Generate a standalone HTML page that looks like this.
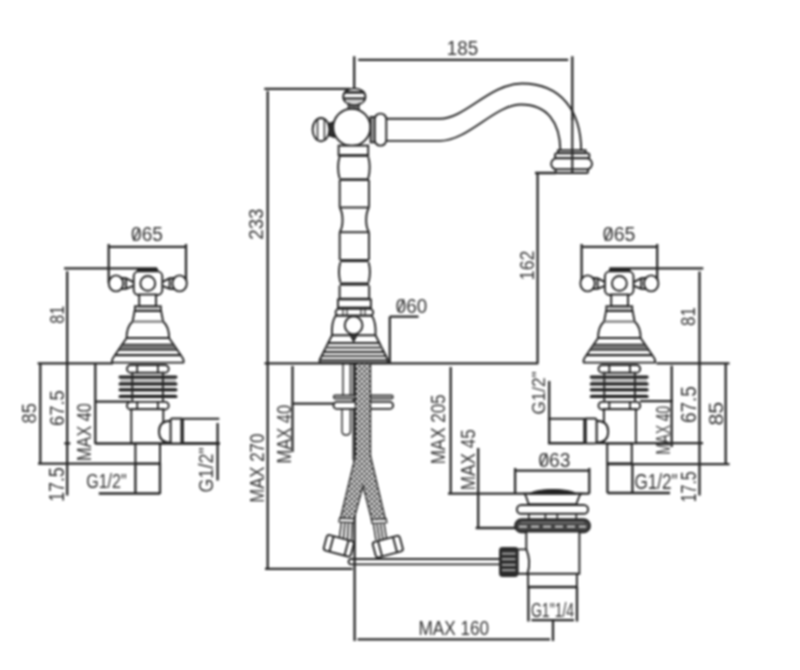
<!DOCTYPE html>
<html><head><meta charset="utf-8"><style>
html,body{margin:0;padding:0;background:#fff;}
svg{display:block;}

text{font-family:"Liberation Sans",sans-serif;fill:#333;}
</style></head><body>
<svg width="800" height="670" viewBox="0 0 800 670">
<defs>
<pattern id="braid" width="5" height="5" patternUnits="userSpaceOnUse" x="355.6" y="0">
<rect width="5" height="5" fill="#2a2a2a"/>
<circle cx="1.25" cy="1.25" r="1.5" fill="#fff"/>
<circle cx="3.75" cy="3.75" r="1.5" fill="#fff"/>
</pattern>
</defs>
<filter id="bl" color-interpolation-filters="sRGB" filterUnits="userSpaceOnUse" x="0" y="0" width="800" height="670"><feGaussianBlur stdDeviation="0.8"/></filter>
<g filter="url(#bl)">
<rect width="800" height="670" fill="#fff"/>
<path d="M354.2,56.2 L354.2,88.5 M358.2,59.8 L568.2,59.8 M572.3,56.3 L572.3,120 M264.3,88.8 L350,88.8 M267.7,91 L267.7,568.8 M264.5,363.4 L538.3,363.4 M537.6,172.8 L537.6,363.4 M535,173 L556,173 M389.8,316.5 L389.8,363.4 M389.8,316.6 L418.5,316.6 M265,568.8 L352.5,568.8 M292.5,366 L292.5,452 M292.5,403.6 L335,403.6 M450.7,367 L450.7,493.8 M448,493.7 L589.3,493.7 M478.2,448 L478.2,527.7 M475.7,528 L515.5,528 M515.1,468 L515.1,493.7 M589.3,468 L589.3,493.7 M515.1,470.6 L589.3,470.6 M354.6,363.4 L354.6,641 M357.5,639.3 L550,639.3 M553,620 L553,641 M528.4,587 L528.4,621.5 M577,587 L577,621.5 M531.4,620.2 L574,620.2 M108.7,244 L108.7,283 M186,244 L186,283 M108.7,246.8 L186,246.8 M64.1,268.45 L157,268.45 M67.2,271.3 L67.2,495.5 M37.6,363.3 L113,363.3 M40.3,363.3 L40.3,463.6 M38,463.6 L160,463.6 M64.3,443.4 L70.3,443.4 M95.3,364 L95.3,444 M95.3,401.6 L130,401.6 M95.3,443.5 L220,443.5 M135.4,463 L135.4,494 M160,463 L160,494 M98.8,493.5 L160,493.5 M217.6,423 L217.6,480.5 M581.6,244 L581.6,286 M657.2,244 L657.2,286 M581.6,246.8 L657.2,246.8 M609.5,268.45 L703.3,268.45 M699.5,271.5 L699.5,495.5 M656.4,363.3 L729.5,363.3 M725.7,363.3 L725.7,464.2 M607.4,464.2 L729.5,464.2 M671.7,365.7 L671.7,447 M640,401.2 L673,401.2 M548.4,443.2 L703,443.2 M607.4,464 L607.4,493 M632.4,464 L632.4,493 M607.4,493 L670,493 M549.2,381 L549.2,443.6" fill="none" stroke="#262626" stroke-width="2.3"/>

<g fill="#fff" stroke="#222" stroke-width="1.9">
 <rect x="136.7" y="268" width="21.6" height="4.5" rx="2" fill="#222" stroke="none"/>
 <path d="M122,278 L126,278.3 L134,282.4 L134,285.7 L126,288.7 L122,289 Z M126,278.3 V288.7"/>
 <path d="M173.6,278 L169.6,278.3 L161.6,282.4 L161.6,285.7 L169.6,288.7 L173.6,289 Z M169.6,278.3 V288.7"/>
 <ellipse cx="116" cy="283.4" rx="7.2" ry="8"/>
 <ellipse cx="179.6" cy="283.4" rx="7.2" ry="8"/>
 <rect x="133.7" y="271.4" width="28.6" height="23.6" rx="5"/>
 <circle cx="147.8" cy="283.4" r="7.4"/>
 <rect x="139.2" y="294.5" width="16.8" height="11.8"/>
 <rect x="135" y="306.3" width="25.8" height="4.8"/>
 <path d="M134.6,311 L132.6,321.5 C128.6,325 126.6,331 126.6,338 L114,356.5 Q111.3,360 112.3,362.6 L183.4,362.6 Q184.4,360 181.7,356.5 L169.1,338 C169.1,331 167.1,325 163.1,321.5 L161.1,311 Z"/>
 <path d="M132.8,321.6 H162.9" stroke="#777" stroke-width="2.2"/>
 <path d="M126.6,338 H169.1" stroke-width="2.2"/>
 <path d="M122.2,344.3 L173.5,344.3 L177.4,350.2 L118.3,350.2 Z" fill="#777" stroke-width="1.2"/>
 <path d="M115.3,355.2 H180.4" stroke-width="2.2"/>
 <path d="M137,308.6 H158.7" stroke="#aaa" stroke-width="1.6"/>
 <rect x="127" y="365" width="41.7" height="7.8" rx="3.9"/>
 <path d="M137.2,365 V372.8 M157.9,365 V372.8" stroke-width="1.8"/>
 <rect x="120" y="377.5" width="56" height="18.5" rx="3" fill="#c4c4c4" stroke="none"/>
 <path d="M120,381 Q116,381 120,380.5 M120,386.8 H176 M120,393 H176" stroke="#fff" stroke-width="2"/>
 <g stroke-width="3" stroke-linecap="round" stroke="#1e1e1e">
  <path d="M120,377.1 H176 M120,383.9 H176 M120,389.7 H176 M120,396.5 H176"/>
 </g>
 <path d="M132.3,372.8 V401.9 M162.9,372.8 V401.9" stroke-width="1.8"/>
 <rect x="127" y="401.9" width="41.7" height="7.6" rx="3.8"/>
 <path d="M137.2,401.9 V409.5 M157.9,401.9 V409.5" stroke-width="1.8"/>
 <rect x="131.3" y="409.2" width="32" height="34"/>
 <path d="M170.7,420.8 C161.5,421 159,426 159,431.7 C159,437.4 161.5,442.4 170.7,442.6 Z"/>
 <rect x="170.7" y="418.5" width="12.3" height="24.8" rx="1.5" stroke-width="1.8"/>
 <path d="M181.4,418.5 V443.3"/>
 <path d="M183,418.8 H219.3 M183,443.3 H219.3"/>
 <rect x="135.4" y="443.6" width="24.6" height="19.8" stroke-width="2"/>
</g>

<g transform="translate(767.2,0) scale(-1,1)">
<g fill="#fff" stroke="#222" stroke-width="1.9">
 <rect x="136.7" y="268" width="21.6" height="4.5" rx="2" fill="#222" stroke="none"/>
 <path d="M122,278 L126,278.3 L134,282.4 L134,285.7 L126,288.7 L122,289 Z M126,278.3 V288.7"/>
 <path d="M173.6,278 L169.6,278.3 L161.6,282.4 L161.6,285.7 L169.6,288.7 L173.6,289 Z M169.6,278.3 V288.7"/>
 <ellipse cx="116" cy="283.4" rx="7.2" ry="8"/>
 <ellipse cx="179.6" cy="283.4" rx="7.2" ry="8"/>
 <rect x="133.7" y="271.4" width="28.6" height="23.6" rx="5"/>
 <circle cx="147.8" cy="283.4" r="7.4"/>
 <rect x="139.2" y="294.5" width="16.8" height="11.8"/>
 <rect x="135" y="306.3" width="25.8" height="4.8"/>
 <path d="M134.6,311 L132.6,321.5 C128.6,325 126.6,331 126.6,338 L114,356.5 Q111.3,360 112.3,362.6 L183.4,362.6 Q184.4,360 181.7,356.5 L169.1,338 C169.1,331 167.1,325 163.1,321.5 L161.1,311 Z"/>
 <path d="M132.8,321.6 H162.9" stroke="#777" stroke-width="2.2"/>
 <path d="M126.6,338 H169.1" stroke-width="2.2"/>
 <path d="M122.2,344.3 L173.5,344.3 L177.4,350.2 L118.3,350.2 Z" fill="#777" stroke-width="1.2"/>
 <path d="M115.3,355.2 H180.4" stroke-width="2.2"/>
 <path d="M137,308.6 H158.7" stroke="#aaa" stroke-width="1.6"/>
 <rect x="127" y="365" width="41.7" height="7.8" rx="3.9"/>
 <path d="M137.2,365 V372.8 M157.9,365 V372.8" stroke-width="1.8"/>
 <rect x="120" y="377.5" width="56" height="18.5" rx="3" fill="#c4c4c4" stroke="none"/>
 <path d="M120,381 Q116,381 120,380.5 M120,386.8 H176 M120,393 H176" stroke="#fff" stroke-width="2"/>
 <g stroke-width="3" stroke-linecap="round" stroke="#1e1e1e">
  <path d="M120,377.1 H176 M120,383.9 H176 M120,389.7 H176 M120,396.5 H176"/>
 </g>
 <path d="M132.3,372.8 V401.9 M162.9,372.8 V401.9" stroke-width="1.8"/>
 <rect x="127" y="401.9" width="41.7" height="7.6" rx="3.8"/>
 <path d="M137.2,401.9 V409.5 M157.9,401.9 V409.5" stroke-width="1.8"/>
 <rect x="131.3" y="409.2" width="32" height="34"/>
 <path d="M170.7,420.8 C161.5,421 159,426 159,431.7 C159,437.4 161.5,442.4 170.7,442.6 Z"/>
 <rect x="170.7" y="418.5" width="12.3" height="24.8" rx="1.5" stroke-width="1.8"/>
 <path d="M181.4,418.5 V443.3"/>
 <path d="M183,418.8 H219.3 M183,443.3 H219.3"/>
 <rect x="135.4" y="443.6" width="24.6" height="19.8" stroke-width="2"/>
</g>
</g>

<g fill="#fff" stroke="#222" stroke-width="1.9">
 <!-- spout -->
 <path fill="none" d="M386,118.8 L440,118.8 C465,118.8 490,83.5 522,83.5 C562,83.5 581,112 581.2,150.5"/>
 <path fill="none" d="M386,140.9 L440,140.9 C468,140.9 495,104.5 521,104.5 C547,104.5 560,122 560.4,150.5"/>
 <rect x="558" y="150.2" width="27.6" height="3"/>
 <rect x="555" y="153.2" width="34.4" height="5" rx="2"/>
 <rect x="551.2" y="158.2" width="40.8" height="11.2" rx="5.5"/>
 <rect x="555.6" y="169.4" width="32.4" height="3.6" rx="1"/>
 <path d="M572.3,118 V172" stroke="#262626" stroke-width="2.1"/>
 <!-- head -->
 <rect x="348.4" y="104.6" width="10.5" height="5" fill="#777" stroke-width="1.4"/>
 <ellipse cx="354.3" cy="96.8" rx="11.1" ry="8.4"/>
 <path d="M344.2,92.4 H364.4" stroke-width="2.6"/>
 <path d="M343.4,98.5 H365.2" stroke-width="2.2"/>
 <path d="M346,101.8 H362.6" stroke="#bbb" stroke-width="2"/>
 <path d="M328.5,124 L334,122 L334,137 L328.5,135 Z" fill="#333"/>
 <ellipse cx="321" cy="129.6" rx="8.4" ry="11.6"/>
 <path d="M317.5,118.6 V140.6 M324.4,118.4 V140.8" stroke-width="1.4"/>
 <circle cx="351.8" cy="127.3" r="18.6"/>
 <rect x="370.6" y="117" width="4.2" height="25.3" fill="#bbb"/>
 <rect x="374.7" y="113.6" width="11.6" height="32" rx="5.5"/>
 <!-- column -->
 <rect x="338.6" y="145.6" width="29.6" height="9.6"/>
 <path d="M338.6,155.6 H368.2" stroke-width="2.4"/>
 <path fill="none" d="M339.6,156.6 C337.8,163 337.8,172 339.6,178.6 M368.2,156.6 C370,163 370,172 368.2,178.6"/>
 <path d="M339.6,179.6 H369" stroke-width="2.6"/>
 <path d="M339.7,180 V207.5 M369,180 V207.5"/>
 <path d="M339.7,207.5 H369"/>
 <path fill="none" d="M339.7,207.5 C343.5,214 343.5,226 339.7,232.2 M369,207.5 C365.2,214 365.2,226 369,232.2"/>
 <path d="M339.7,232.2 H369"/>
 <path d="M339.7,232.2 V260 M369,232.2 V260"/>
 <path d="M340.2,260.6 H368.6" stroke-width="3"/>
 <path fill="none" d="M340.3,262.2 C338.7,268 338.7,276 340.3,282.2 M368.6,262.2 C370.2,268 370.2,276 368.6,282.2"/>
 <path d="M340,284 H369" stroke-width="3.2"/>
 <path d="M339.6,285.6 V298.8 M369.2,285.6 V298.8 M339.6,298.8 H369.2"/>
 <rect x="338" y="299.4" width="32.9" height="8.2"/>
 <rect x="335.6" y="308.8" width="37.6" height="7" rx="3.5"/>
 <path d="M343,308.8 V315.8 M347,308.8 V315.8 M361,308.8 V315.8 M365,308.8 V315.8" stroke-width="1.2"/>
 <path d="M335.6,315.8 C332.2,321 331.6,328 332,335.2 L319.8,359.5 Q318.6,362.6 321.5,362.6 L386,362.6 Q388.9,362.6 387.7,359.5 L375.5,335.2 C375.9,328 375.3,321 371.9,315.8 Z"/>
 <circle cx="353.6" cy="325.3" r="8.9"/>
 <path d="M349.6,333.3 L353.6,341 L357.6,333.3" fill="#555"/>
 <path d="M332,335.2 H375.5" stroke-width="2"/>
 <path d="M328,343 H379.5" stroke-width="2"/>
 <path d="M325.8,347.6 H381.7" stroke="#666" stroke-width="2.6"/>
 <path d="M323.6,352 H383.9" stroke-width="1.8"/>
 <path d="M321.6,356.2 H385.9" stroke-width="1.8"/>
 <path d="M320.2,360.2 H387.3" stroke-width="1.8"/>
 <!-- under counter -->
 <path d="M343,363.4 V398 M350.4,363.4 V398" stroke-width="1.4"/>
 <path d="M342,409.5 V431 Q342,435 346,435 Q350.4,435 350.4,431 V409.5" stroke-width="1.4"/>
 <path d="M352.9,363.4 V460" stroke-width="1"/>
 <rect x="333.5" y="395.2" width="59.6" height="3.6" rx="1.8" fill="#999" stroke-width="1.3"/>
 <rect x="333.5" y="401.9" width="59.6" height="7" rx="3.5"/>
 <!-- hoses -->
 <path d="M355.4,363.4 L370.5,363.4 L370.5,455.7 L385.8,521 L372,521.5 L363,486 L353.7,520.5 L340,520 L355.4,455.7 Z" fill="url(#braid)" stroke="#222" stroke-width="1.3"/>
 <path d="M339.6,518 L354.4,518.8 L353.8,522.6 L339,521.8 Z" stroke-width="1.3"/>
 <path d="M371.4,519.6 L386.2,518.8 L386.8,522.6 L372,523.4 Z" stroke-width="1.3"/>
 <path d="M341.5,522 L339.5,537 M345,522.3 L343.5,538 M348.5,522.5 L347.5,539 M352,522.7 L351.5,540" stroke-width="1.5"/>
 <path d="M373.5,524 L376,540 M377,523.8 L379.5,540 M380.5,523.6 L383,540 M384,523.4 L386.5,539" stroke-width="1.5"/>
 <g transform="translate(338.8,545.8) rotate(15)"><rect x="-14" y="-8" width="28" height="16" rx="2.5"/><path d="M-7.5,-8 V8 M8,-8 V8"/></g>
 <g transform="translate(387.8,546.6) rotate(-15)"><rect x="-14" y="-8" width="28" height="16" rx="2.5"/><path d="M-8,-8 V8 M7.5,-8 V8"/></g>
 <!-- drain rod -->
 <path d="M350,559 L500,559 M350,564.4 L500,564.4 M350,559 Q347,561.7 350,564.4"/>
 <!-- pop-up waste -->
 <path d="M524.6,493.7 C527,497 527.5,502 528.8,504.3 L576.3,504.3 C577.5,502 578,497 581,493.7 Z"/>
 <path d="M529.7,494 C535,488 571,488 576.4,494 Z" fill="#222" stroke-width="1"/>
 <path d="M528.8,513.8 V519.2 M545.4,513.8 V519.2 M557.3,513.8 V519.2 M576.3,513.8 V519.2" stroke-width="1.6"/>
 <rect x="516.9" y="505" width="71.2" height="8.8" rx="4.4"/>
 <rect x="515.1" y="519.2" width="74.9" height="13.1" rx="6.5" fill="#444"/>
 <path d="M519,526.6 H586" stroke="#ddd" stroke-width="1.8" stroke-dasharray="8 4"/>
 <path d="M521,522.6 H584" stroke="#888" stroke-width="1"/>
 <rect x="526.3" y="531.5" width="53.1" height="42.3"/>
 <path d="M517.5,549.4 H526.3 Q531.5,561 527.5,573.8 H517.5 Z"/>
 <rect x="500" y="548" width="17.5" height="28" rx="2.5" fill="#2a2a2a" stroke="#2a2a2a"/>
 <path d="M502,553.6 H515.5 M502,559.2 H515.5 M502,564.8 H515.5 M502,570.2 H515.5" stroke="#999" stroke-width="2.2"/>
 <rect x="528.1" y="573.8" width="48.8" height="13.2"/>
 <path d="M528.1,587 H576.9" stroke-width="2.6"/>
</g>

<text x="446.79" y="55.41" font-size="19.44" textLength="31.43" lengthAdjust="spacingAndGlyphs">185</text><text transform="translate(262.60,239.73) rotate(-90)" x="0" y="0" font-size="20.14" textLength="31.14" lengthAdjust="spacingAndGlyphs">233</text><text transform="translate(533.61,280.13) rotate(-90)" x="0" y="0" font-size="19.44" textLength="29.58" lengthAdjust="spacingAndGlyphs">162</text><text x="395.85" y="312.60" font-size="20.00" textLength="31.37" lengthAdjust="spacingAndGlyphs">060</text><path d="M398.20,312.00 L403.93,299.20" stroke="#333" stroke-width="1.5" fill="none"/><text x="131.04" y="241.40" font-size="19.72" textLength="31.79" lengthAdjust="spacingAndGlyphs">065</text><path d="M133.40,240.80 L139.25,228.20" stroke="#333" stroke-width="1.5" fill="none"/><text x="602.82" y="241.40" font-size="20.28" textLength="32.63" lengthAdjust="spacingAndGlyphs">065</text><path d="M605.20,240.80 L611.29,227.80" stroke="#333" stroke-width="1.5" fill="none"/><text transform="translate(63.80,323.72) rotate(-90)" x="0" y="0" font-size="20.42" textLength="17.88" lengthAdjust="spacingAndGlyphs">81</text><text transform="translate(695.30,325.96) rotate(-90)" x="0" y="0" font-size="20.42" textLength="18.76" lengthAdjust="spacingAndGlyphs">81</text><text transform="translate(36.19,423.42) rotate(-90)" x="0" y="0" font-size="20.99" textLength="20.18" lengthAdjust="spacingAndGlyphs">85</text><text transform="translate(63.79,425.92) rotate(-90)" x="0" y="0" font-size="21.13" textLength="35.67" lengthAdjust="spacingAndGlyphs">67.5</text><text transform="translate(91.20,460.89) rotate(-90)" x="0" y="0" font-size="19.58" textLength="57.58" lengthAdjust="spacingAndGlyphs">MAX 40</text><text transform="translate(63.79,501.83) rotate(-90)" x="0" y="0" font-size="21.43" textLength="34.57" lengthAdjust="spacingAndGlyphs">17.5</text><text x="86.20" y="488.20" font-size="19.59" textLength="40.41" lengthAdjust="spacingAndGlyphs">G1/2"</text><text transform="translate(213.30,492.39) rotate(-90)" x="0" y="0" font-size="20.41" textLength="45.07" lengthAdjust="spacingAndGlyphs">G1/2"</text><text transform="translate(264.30,502.84) rotate(-90)" x="0" y="0" font-size="20.42" textLength="69.07" lengthAdjust="spacingAndGlyphs">MAX 270</text><text transform="translate(290.60,463.62) rotate(-90)" x="0" y="0" font-size="20.14" textLength="58.82" lengthAdjust="spacingAndGlyphs">MAX 40</text><text transform="translate(445.41,464.36) rotate(-90)" x="0" y="0" font-size="19.44" textLength="69.90" lengthAdjust="spacingAndGlyphs">MAX 205</text><text transform="translate(474.80,490.17) rotate(-90)" x="0" y="0" font-size="19.71" textLength="60.89" lengthAdjust="spacingAndGlyphs">MAX 45</text><text x="538.43" y="466.60" font-size="20.00" textLength="32.00" lengthAdjust="spacingAndGlyphs">063</text><path d="M540.80,466.00 L546.71,453.20" stroke="#333" stroke-width="1.5" fill="none"/><text x="530.90" y="616.80" font-size="20.41" textLength="43.31" lengthAdjust="spacingAndGlyphs">G1"1/4</text><text x="418.43" y="634.80" font-size="20.42" textLength="70.62" lengthAdjust="spacingAndGlyphs">MAX 160</text><text transform="translate(545.11,414.56) rotate(-90)" x="0" y="0" font-size="19.05" textLength="43.21" lengthAdjust="spacingAndGlyphs">G1/2"</text><text transform="translate(670.00,454.59) rotate(-90)" x="0" y="0" font-size="19.58" textLength="48.67" lengthAdjust="spacingAndGlyphs">MAX 40</text><text transform="translate(696.19,422.94) rotate(-90)" x="0" y="0" font-size="21.27" textLength="36.72" lengthAdjust="spacingAndGlyphs">67.5</text><text transform="translate(722.60,425.56) rotate(-90)" x="0" y="0" font-size="19.86" textLength="23.66" lengthAdjust="spacingAndGlyphs">85</text><text x="634.44" y="488.78" font-size="22.45" textLength="43.21" lengthAdjust="spacingAndGlyphs">G1/2"</text><text transform="translate(696.29,502.19) rotate(-90)" x="0" y="0" font-size="21.43" textLength="30.84" lengthAdjust="spacingAndGlyphs">17.5</text>
</g>
</svg>
</body></html>
